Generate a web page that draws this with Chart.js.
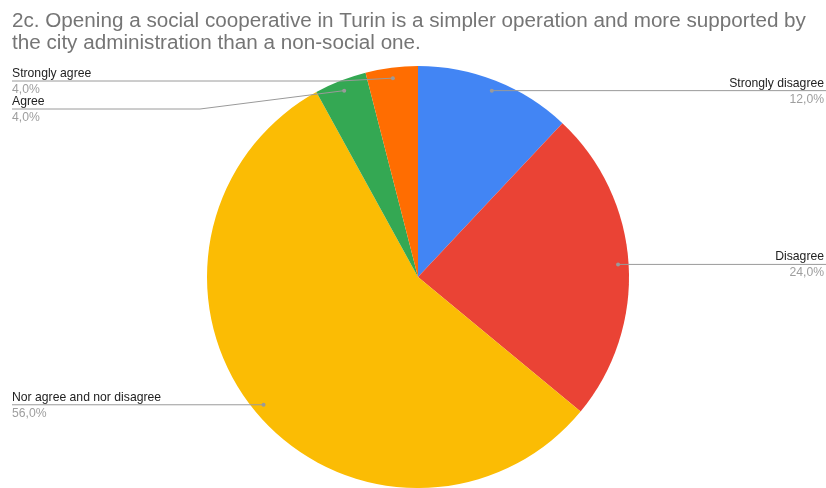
<!DOCTYPE html>
<html>
<head>
<meta charset="utf-8">
<script src="https://cdn.jsdelivr.net/npm/chart.js@4.4.0/dist/chart.umd.min.js"></script>
<style>
html, body { margin: 0; padding: 0; background: #fff; }
</style>
</head>
<body>
<canvas id="pieChart" width="826" height="488"></canvas>
<script>
const titleLines = [
    '2c. Opening a social cooperative in Turin is a simpler operation and more supported by',
    'the city administration than a non-social one.'
];
const categories = ['Strongly disagree', 'Disagree', 'Nor agree and nor disagree', 'Agree', 'Strongly agree'];
const percentages = [12, 24, 56, 4, 4];
const sliceColors = ['#4285F4', '#EA4335', '#FBBC04', '#34A853', '#FF6D01'];

// callout placement: side of the chart, y of the underline (null = level with the dot), x where the leader bends
const calloutLayout = [
    { side: 'right', y: null },
    { side: 'right', y: null },
    { side: 'left', y: null },
    { side: 'left', y: 109, bendX: 200 },
    { side: 'left', y: 81, bendX: 340 }
];

const FONT = '"Liberation Sans", Arial, sans-serif';

const calloutPlugin = {
    id: 'callouts',
    afterDraw(chart) {
        const ctx = chart.ctx;
        const meta = chart.getDatasetMeta(0);
        const w = chart.width;
        ctx.save();

        // title, slightly widened
        ctx.save();
        ctx.translate(12, 0);
        ctx.scale(1.033, 1);
        ctx.font = '20px ' + FONT;
        ctx.fillStyle = '#757575';
        ctx.textAlign = 'left';
        ctx.textBaseline = 'alphabetic';
        titleLines.forEach((t, i) => ctx.fillText(t, 0, 27 + i * 21.5));
        ctx.restore();

        meta.data.forEach((arc, i) => {
            const mid = (arc.startAngle + arc.endAngle) / 2;
            const r = arc.outerRadius * 0.95;
            const px = arc.x + Math.cos(mid) * r;
            const py = arc.y + Math.sin(mid) * r;
            const lay = calloutLayout[i];
            const right = lay.side === 'right';
            const ly = lay.y == null ? py : lay.y;
            const endX = right ? w : 12;

            ctx.strokeStyle = '#9a9a9a';
            ctx.lineWidth = 1;
            ctx.beginPath();
            ctx.moveTo(px, py);
            if (lay.bendX != null) ctx.lineTo(lay.bendX, ly);
            ctx.lineTo(endX, ly);
            ctx.stroke();

            ctx.fillStyle = '#9a9a9a';
            ctx.beginPath();
            ctx.arc(px, py, 2, 0, Math.PI * 2);
            ctx.fill();

            const tx = right ? w - 2 : 12;
            ctx.textAlign = right ? 'right' : 'left';
            ctx.font = '12.2px ' + FONT;
            ctx.fillStyle = '#222222';
            ctx.fillText(categories[i], tx, ly - 4);
            ctx.fillStyle = '#9e9e9e';
            ctx.fillText(percentages[i].toFixed(1).replace('.', ',') + '%', tx, ly + 12);
        });
        ctx.restore();
    }
};

new Chart(document.getElementById('pieChart').getContext('2d'), {
    type: 'pie',
    data: {
        labels: categories,
        datasets: [{
            data: percentages,
            backgroundColor: sliceColors,
            borderWidth: 0
        }]
    },
    options: {
        responsive: false,
        animation: false,
        devicePixelRatio: 1,
        layout: {
            padding: { top: 66, left: 207, right: 197, bottom: 0 }
        },
        plugins: {
            legend: { display: false },
            tooltip: { enabled: false }
        }
    },
    plugins: [calloutPlugin]
});
</script>
</body>
</html>
